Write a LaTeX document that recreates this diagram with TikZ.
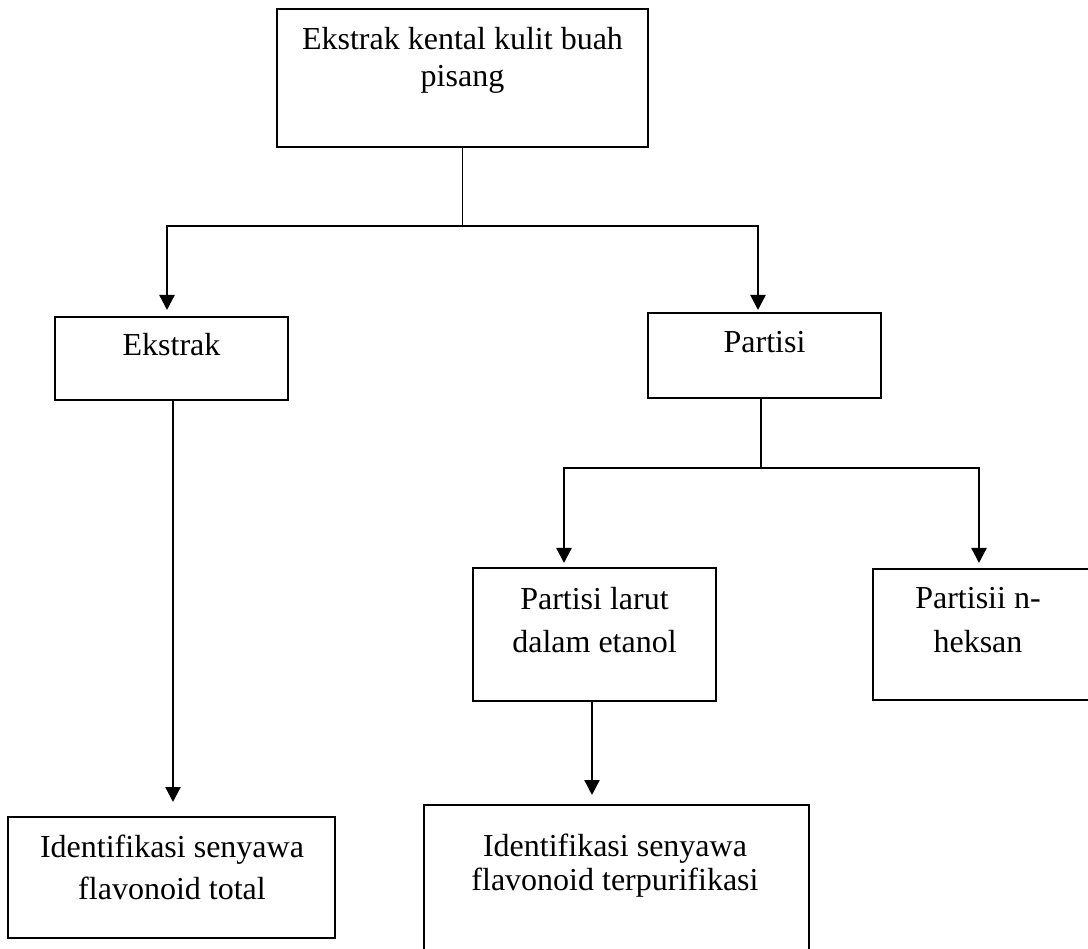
\documentclass[tikz,border=0pt]{standalone}
\usepackage{fontspec}
\setmainfont{Liberation Serif}
\usetikzlibrary{arrows.meta}
\begin{document}
\begin{tikzpicture}[x=1pt,y=-1pt,
  box/.style={draw, line width=2pt, rectangle, inner sep=0pt},
  lbl/.style={anchor=base, align=center, inner sep=0pt, font=\fontsize{32}{#1}\selectfont},
  lbl/.default=38,
  stem/.style={line width=1.4pt},
  arr/.style={line width=2.3pt, -{Triangle[width=15pt,length=15pt]}}]
\fill[white] (0,0) rectangle (1088,949);
\useasboundingbox (0,0) rectangle (1088,949);
\clip (0,0) rectangle (1088,949);

% boxes
\node[box, minimum width=371pt, minimum height=138pt] (top) at (462.5,78) {};
\node[box, minimum width=233pt, minimum height=83pt] (ekstrak) at (171.5,358.5) {};
\node[box, minimum width=233pt, minimum height=85pt] (partisi) at (764.5,355.5) {};
\node[box, minimum width=243pt, minimum height=133pt] (plarut) at (594.5,634.5) {};
\node[box, minimum width=222pt, minimum height=131pt] (pheks) at (984,634.5) {};
\node[box, minimum width=327pt, minimum height=121pt] (ident1) at (171.5,877.5) {};
\node[box, minimum width=385pt, minimum height=170pt] (terp) at (616.5,890) {};

% texts (base anchor = baseline of the last line)
\node[lbl=37] (toptxt) at (462.5,87) {Ekstrak kental kulit buah\\pisang};
\node[lbl] (ekstraktxt) at (171.5,356) {Ekstrak};
\node[lbl] (partisitxt) at (764.5,353) {Partisi};
\node[lbl=43] (plaruttxt) at (594.5,652) {Partisi larut\\dalam etanol};
\node[lbl=44] (phekstxt) at (978,652) {Partisii n-\\heksan};
\node[lbl=42] (ident1txt) at (172,899) {Identifikasi senyawa\\flavonoid total};
\node[lbl=34] (terptxt) at (615,890) {Identifikasi senyawa\\flavonoid terpurifikasi};

% connectors
\coordinate (j1) at (462.5,226);
\coordinate (a1) at (167,310);
\coordinate (a2) at (758,310);
\draw[stem] (top.south) -- (j1);
\draw[arr] (j1) -| (a1);
\draw[arr] (j1) -| (a2);

\coordinate (a6) at (173,802);
\draw[arr] (ekstrak.south -| a6) -- (a6);

\coordinate (j2) at (761,468);
\coordinate (a3) at (564,563);
\coordinate (a4) at (979,563);
\draw[stem] (partisi.south -| j2) -- (j2);
\draw[arr] (j2) -| (a3);
\draw[arr] (j2) -| (a4);

\coordinate (a5) at (592,795);
\draw[arr] (plarut.south -| a5) -- (a5);
\end{tikzpicture}
\end{document}
